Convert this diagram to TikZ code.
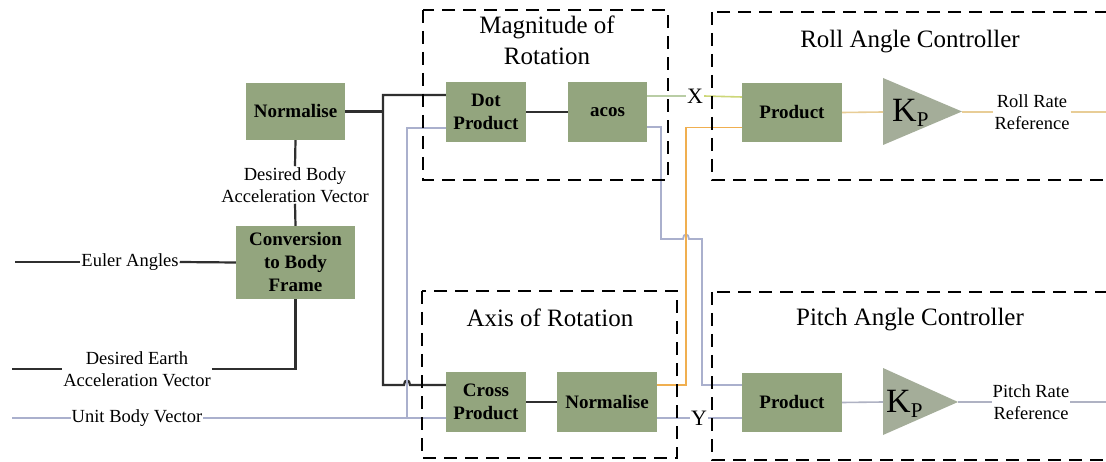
\documentclass[tikz,border=0pt]{standalone}
\usepackage{fontspec}
\setmainfont{Liberation Serif}
\usetikzlibrary{calc}

\definecolor{boxgreen}{RGB}{147,165,126}
\definecolor{trigreen}{RGB}{164,173,153}
\definecolor{wiredark}{RGB}{47,47,47}
\definecolor{wireblue}{RGB}{170,176,205}
\definecolor{wireorange}{RGB}{240,175,80}
\definecolor{wiresage}{RGB}{185,205,165}
\definecolor{wirelime}{RGB}{205,215,120}
\definecolor{wirepeach}{RGB}{232,205,150}
\definecolor{wiregrey}{RGB}{175,178,195}

\tikzset{
  blk/.style={fill=boxgreen, text=black, inner sep=0pt, align=center,
    font=\fontsize{19}{23}\selectfont\bfseries},
  lbl/.style={inner sep=1pt, align=center, text=black,
    font=\fontsize{18.5}{22}\selectfont},
  ttl/.style={inner sep=0pt, align=center, text=black,
    font=\fontsize{25}{31}\selectfont},
  grp/.style={draw=black, line width=2pt, dash pattern=on 13pt off 8pt},
  wire/.style={draw=wiredark, line width=2.2pt},
  bwire/.style={draw=wireblue, line width=1.8pt},
  owire/.style={draw=wireorange, line width=1.6pt},
  gain/.style={fill=trigreen, draw=none}
}

\begin{document}
\begin{tikzpicture}[x=1pt, y=-1pt]
\path[use as bounding box, clip] (0,0) rectangle (1106,462);
\fill[white] (0,0) rectangle (1106,462);

% ---- blocks ----
\node[blk, minimum width=99pt, minimum height=57pt] (norm1) at (295.5,111.5) {Normalise};
\node[blk, minimum width=119pt, minimum height=73pt] (conv) at (295.5,262.5) {Conversion\\to Body\\Frame};
\node[blk, minimum width=80pt, minimum height=60pt] (dot) at (486,112) {Dot\\Product};
\node[blk, minimum width=79pt, minimum height=60pt] (acos) at (607.5,112) {acos};
\node[blk, minimum width=80pt, minimum height=60pt] (cross) at (486,402) {Cross\\Product};
\node[blk, minimum width=100pt, minimum height=60pt] (norm2) at (607,402) {Normalise};
\node[blk, minimum width=100pt, minimum height=59pt] (rollprod) at (792,112.5) {Product};
\node[blk, minimum width=100pt, minimum height=59pt] (pitchprod) at (792,402.5) {Product};

% ---- gain triangles ----
\fill[gain] (883,78) -- (962,111.5) -- (883,145) -- cycle;
\coordinate (rollkin) at (883,112);
\coordinate (rollkout) at (962,112);
\node[anchor=base west, inner sep=0pt] (rollk) at (892,122)
  {\fontsize{34}{34}\selectfont K\raisebox{-5pt}{\fontsize{21}{21}\selectfont P}};
\fill[gain] (883,368) -- (958,402) -- (883,435) -- cycle;
\coordinate (pitchkin) at (883,402);
\coordinate (pitchkout) at (958,402);
\node[anchor=base west, inner sep=0pt] (pitchk) at (886,412)
  {\fontsize{34}{34}\selectfont K\raisebox{-5pt}{\fontsize{21}{21}\selectfont P}};

% ---- labels ----
\node[lbl] (dbav) at (295,185) {Desired Body\\Acceleration Vector};
\node[lbl] (euler) at (130,262) {Euler Angles};
\node[lbl] (dea) at (137,369) {Desired Earth\\Acceleration Vector};
\node[lbl] (ubv) at (137,418) {Unit Body Vector};
\node[lbl, font=\fontsize{22}{22}\selectfont] (xl) at (695,96) {X};
\node[lbl, font=\fontsize{22}{22}\selectfont] (yl) at (699,418) {Y};
\node[lbl] (rrr) at (1032,112) {Roll Rate\\Reference};
\node[lbl] (prr) at (1031,402) {Pitch Rate\\Reference};

\coordinate (eulerin) at (15,262);
\coordinate (deain) at (12,369);
\coordinate (ubvin) at (12,418);
\coordinate (ubsplit) at (407,418);
\coordinate (ntop) at (383,95);
\coordinate (nbot) at (383,385);
\coordinate (rollout) at (1110,112);
\coordinate (pitchout) at (1110,402);

% ---- input chain ----
\draw[wire] (norm1.south) -- (dbav.north);
\draw[wire] (dbav.south) -- (conv.north);
\draw[wire] (eulerin) -- (euler.west);
\draw[wire] (euler.east) -- (conv.west);
\draw[wire] (deain) -- (dea.west);
\draw[wire] (dea.east) -| (conv.south);
\draw[wire] (norm1.east) -- (norm1.east -| ntop);
\draw[wire] ($(dot.west)+(0,-17)$) -| (nbot) -- (404,385)
  .. controls (404,379) and (410,379) .. (410,385) -- ($(cross.west)+(0,-17)$);

\draw[bwire] (ubvin) -- (ubv.west);
\draw[bwire] (ubv.east) -- ($(cross.west)+(0,16)$);
\draw[bwire] (ubsplit) |- ($(dot.west)+(0,16)$);

\draw[wire] (dot.east) -- (acos.west);
\draw[wire] (cross.east) -- (norm2.west);

% ---- outputs of the rotation blocks ----
\draw[draw=wiresage, line width=1.6pt] ($(acos.east)+(0,-16)$) -- (xl.west);
\draw[draw=wirelime, line width=1.6pt] (xl.east) -- ($(rollprod.west)+(0,-15.5)$);
\draw[bwire] ($(acos.east)+(0,15)$) -- (661,127) -- (661,239) -- (683,239)
  .. controls (683,233) and (689,233) .. (689,239) -- (702,239) -- (702,385)
  -- ($(pitchprod.west)+(0,-17.5)$);
\draw[owire] ($(norm2.east)+(0,-17)$) -| ($(rollprod.west)+(-56,15)$)
  -- ($(rollprod.west)+(0,15)$);
\draw[bwire] ($(norm2.east)+(0,16)$) -- (yl.west);
\draw[bwire] (yl.east) -- ($(pitchprod.west)+(0,15.5)$);

% ---- controller chains ----
\draw[draw=wirepeach, line width=1.6pt] (rollprod.east) -- (rollkin);
\draw[draw=wirepeach, line width=1.6pt] (rollkout) -- (rrr.west);
\draw[draw=wirepeach, line width=1.6pt] (rrr.east) -- (rollout);
\draw[draw=wiregrey, line width=1.6pt] (pitchprod.east) -- (pitchkin);
\draw[draw=wiregrey, line width=1.6pt] (pitchkout) -- (prr.west);
\draw[draw=wiregrey, line width=1.6pt] (prr.east) -- (pitchout);

% ---- groups ----
\draw[grp] (423,10) rectangle (668,180);
\node[ttl] (magt) at (547,40) {Magnitude of\\Rotation};
\draw[grp] (422,291) rectangle (677,458);
\node[ttl] (axt) at (550,318) {Axis of Rotation};
\draw[grp] (712,12) rectangle (1120,180);
\node[ttl] (rollt) at (910,42) {Roll Angle Controller};
\draw[grp] (712,292) rectangle (1120,460);
\node[ttl] (pitcht) at (910,320) {Pitch Angle Controller};
\end{tikzpicture}
\end{document}
